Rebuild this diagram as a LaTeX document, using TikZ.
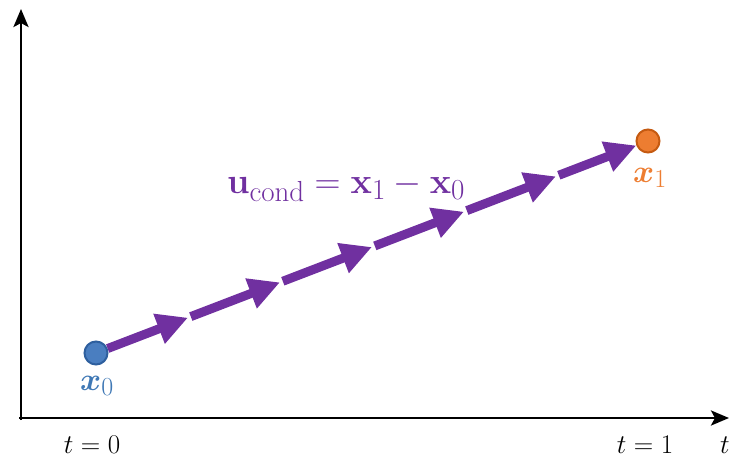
\RequirePackage{fix-cm}
\documentclass[tikz,border=0pt]{standalone}
\usepackage{amsmath,bm}
\DeclareMathSizes{36}{36}{29}{22}
\DeclareMathSizes{32}{32}{26}{20}
\DeclareMathSizes{27}{27}{21}{16}
\usetikzlibrary{arrows.meta,calc}
\definecolor{flowpurple}{HTML}{7030A0}
\definecolor{ptblue}{HTML}{4A7EC0}
\definecolor{ptblueD}{HTML}{2E5F9E}
\definecolor{lblblue}{HTML}{3F78B5}
\definecolor{ptorange}{HTML}{ED7D31}
\definecolor{ptorangeD}{HTML}{C55A11}
\tikzset{
  axis/.style={line width=2.8pt, -{Stealth[length=18pt,width=15pt,inset=4pt]}},
  flowarrow/.style={flowpurple, line width=9pt, -{Triangle[length=31pt,width=30pt]}},
  pt/.style={circle, minimum size=23pt, inner sep=0pt, line width=2pt},
  tlabel/.style={font=\fontsize{27}{32}\selectfont, inner sep=0pt},
  xlabel/.style={font=\fontsize{32}{36}\selectfont, inner sep=0pt},
}
\begin{document}
\begin{tikzpicture}[x=1pt,y=-1pt]
\useasboundingbox (0,0) rectangle (729,459);
\coordinate (origin) at (21,418);
\coordinate (ytip) at (21,9);
\coordinate (xtip) at (729,418);
\draw[axis] ($(origin)+(0,2)$) -- (ytip);
\draw[axis] ($(origin)+(-2,0)$) -- (xtip);
\node[pt, fill=ptblue, draw=ptblueD] (x0) at (96,353) {};
\node[pt, fill=ptorange, draw=ptorangeD] (x1) at (648,141) {};
\foreach \k in {1,...,5} {
  \coordinate (p\k) at ($(x0)!\k/6!(x1)$);
}
\draw[flowarrow] (x0) -- (p1);
\draw[flowarrow, shorten <=3pt] (p1) -- (p2);
\draw[flowarrow, shorten <=3pt] (p2) -- (p3);
\draw[flowarrow, shorten <=3pt] (p3) -- (p4);
\draw[flowarrow, shorten <=3pt] (p4) -- (p5);
\draw[flowarrow, shorten <=3pt] (p5) -- (x1);
\node[xlabel, text=lblblue] (l0) at (97,386) {$\bm{x}_0$};
\node[xlabel, text=ptorange] (l1) at (650,178) {$\bm{x}_1$};
\node[font=\fontsize{36}{40}\selectfont, text=flowpurple, inner sep=0pt] (eq) at (346,187) {$\mathbf{u}_{\text{cond}} = \mathbf{x}_1 - \mathbf{x}_0$};
\node[tlabel] (t0) at (92,445) {$t=0$};
\node[tlabel] (t1) at (645,445) {$t=1$};
\node[tlabel] (tt) at (725,445) {$t$};
\end{tikzpicture}
\end{document}
